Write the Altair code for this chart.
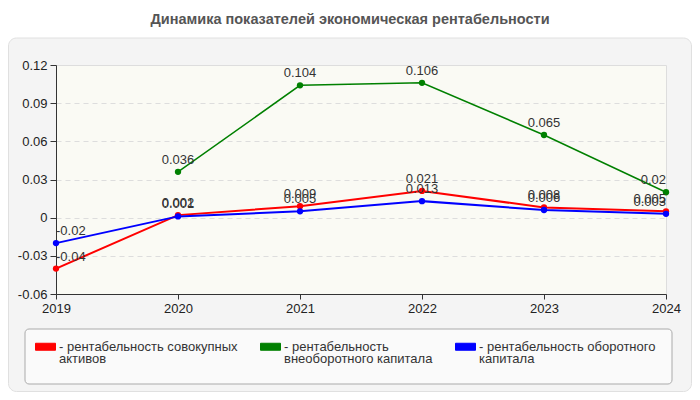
import altair as alt
import pandas as pd

years = ["2019", "2020", "2021", "2022", "2023", "2024"]
series = [
    "рентабельность совокупных активов",
    "рентабельность внеоборотного капитала",
    "рентабельность оборотного капитала",
]
legend_lines = [
    ["- рентабельность совокупных", "\u00a0\u00a0активов"],
    ["- рентабельность", "\u00a0\u00a0внеоборотного капитала"],
    ["- рентабельность оборотного", "\u00a0\u00a0капитала"],
]
colors = ["#ff0000", "#008000", "#0000ff"]
total_assets = [-0.04, 0.002, 0.009, 0.021, 0.008, 0.005]
noncurrent = [None, 0.036, 0.104, 0.106, 0.065, 0.02]
current = [-0.02, 0.001, 0.005, 0.013, 0.006, 0.003]
y_ticks = [-0.06, -0.03, 0, 0.03, 0.06, 0.09, 0.12]
title_text = "Динамика показателей экономическая рентабельности"

# draw order: green under red under blue
rows = []
for name, vals in [(series[1], noncurrent), (series[0], total_assets), (series[2], current)]:
    for yr, v in zip(years, vals):
        if v is None:
            continue
        rows.append({"year": yr, "series": name, "value": v, "label": f"{v:g}"})
df = pd.DataFrame(rows)

W, H = 610, 229
FONT = "Liberation Sans"

x = alt.X("year:O", scale=alt.Scale(type="point", padding=0, domain=years),
          axis=alt.Axis(title=None, labelAngle=0, tickSize=5, labelPadding=3))
y = alt.Y("value:Q", scale=alt.Scale(domain=[-0.06, 0.12], nice=False, zero=False),
          axis=alt.Axis(title=None, values=y_ticks, tickSize=6, labelPadding=3,
                        labelExpr="'' + datum.value"))
color_scale = alt.Scale(domain=series, range=colors)

label_expr = " : ".join(
    f"datum.label == '{s}' ? {lines!r}" for s, lines in zip(series, legend_lines)
) + " : datum.label"

legend = alt.Legend(
    title=None, orient="none", legendX=-21, legendY=271,
    direction="horizontal", columns=3, columnPadding=20,
    symbolType="M-1,-0.35H1V0.35H-1Z", symbolSize=400, symbolStrokeWidth=1,
    labelOffset=3, labelFont=FONT, labelFontSize=13, labelColor="#333",
    labelBaseline="middle", labelLimit=300, labelExpr=label_expr,
    padding=0,
)

base = alt.Chart(df)

lines = base.mark_line().encode(
    x=x, y=y,
    stroke=alt.Stroke("series:N", scale=color_scale, legend=legend, sort=series),
    strokeWidth=alt.condition(alt.datum.series == series[1], alt.value(1.5), alt.value(2)),
)

points = base.mark_point(filled=True, size=40, opacity=1).encode(
    x=x, y=y,
    color=alt.Color("series:N", scale=color_scale, sort=series, legend=legend),
)

def value_labels(cond, align):
    return base.mark_text(dy=-12, fontSize=13, font=FONT, color="#333", align=align).encode(
        x=x, y=y, text="label:N"
    ).transform_filter(cond)

labels = (
    value_labels(alt.datum.year == years[0], "left")
    + value_labels((alt.datum.year != years[0]) & (alt.datum.year != years[-1]), "center")
    + value_labels(alt.datum.year == years[-1], "right")
)

one = alt.Data(values=[{}])

# white surround of the grey panel and its thin border
frame = alt.Chart(one).mark_rect(fillOpacity=0, stroke="white", strokeWidth=60, cornerRadius=38).encode(
    x=alt.value(-77.5), x2=alt.value(665.5), y=alt.value(-57), y2=alt.value(356.5)
)
border = alt.Chart(one).mark_rect(fillOpacity=0, stroke="#e0e0e0", strokeWidth=1, cornerRadius=8).encode(
    x=alt.value(-47.5), x2=alt.value(635.5), y=alt.value(-27), y2=alt.value(326.5)
)
legend_box = alt.Chart(one).mark_rect(fill="#fafafa", stroke="#aaaaaa", strokeWidth=1, cornerRadius=4).encode(
    x=alt.value(-31), x2=alt.value(616), y=alt.value(264), y2=alt.value(319)
)
title = alt.Chart(one).mark_text(
    font=FONT, fontSize=14.5, fontWeight="bold", color="#555555", align="center", baseline="middle"
).encode(x=alt.value(294), y=alt.value(-45), text=alt.value(title_text))

chart = alt.layer(frame, border, legend_box, title, lines, points, labels).properties(
    width=W, height=H,
    autosize=alt.AutoSizeParams(type="none"),
    padding={"left": 48, "top": 57, "right": 26, "bottom": 98},
    background="#f4f4f4",
).configure_view(
    fill="#fafaf4", stroke="#dddddd"
).configure_axis(
    labelFont=FONT, labelFontSize=13, labelColor="#222222",
    domainColor="#333333", tickColor="#333333",
    gridColor="#dddddd", gridDash=[5, 4],
)
chart.config.style = {"guide-label": {"lineHeight": 12}}

chart.save("out.html", embed_options={"renderer": "svg", "actions": False})
